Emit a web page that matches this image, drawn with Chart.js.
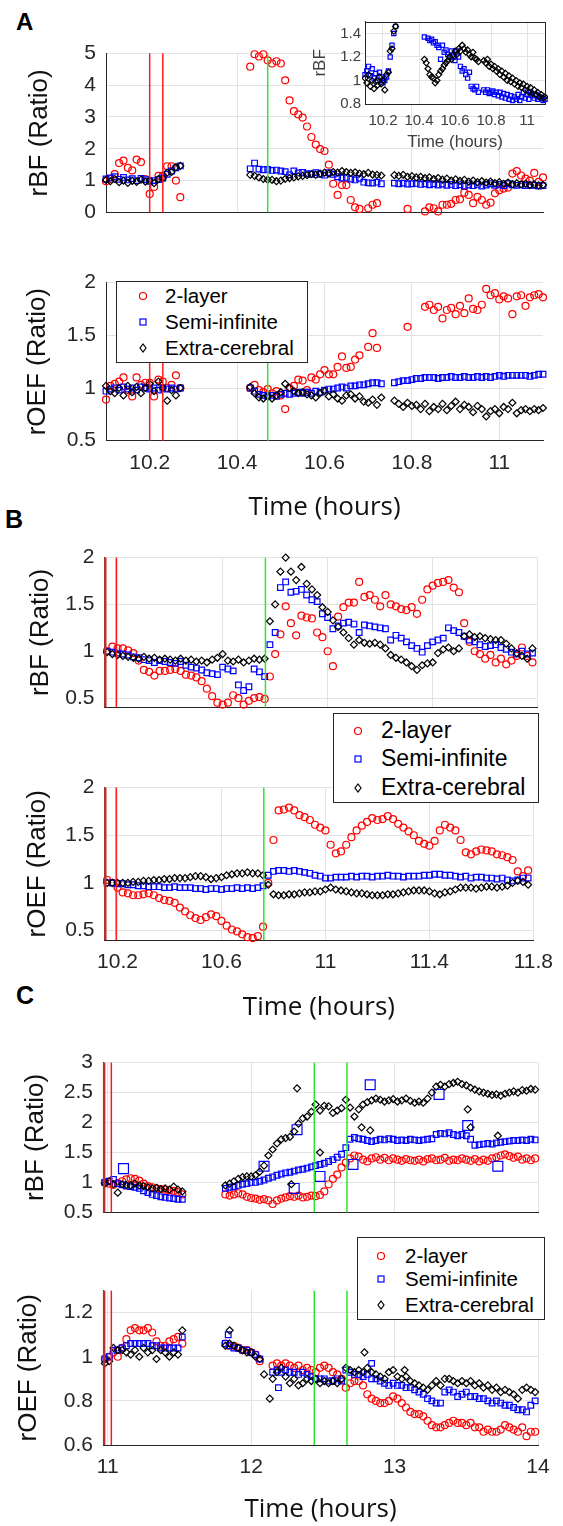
<!DOCTYPE html>
<html>
<head>
<meta charset="UTF-8">
<script src="https://cdn.jsdelivr.net/npm/chart.js"></script>
<title>rBF / rOEF</title>
<style>
body { margin: 0; background: #fff; }
#fig { position: relative; width: 563px; height: 1526px; overflow: hidden; font-family: "Liberation Sans", Arial, sans-serif; }
#fig canvas { position: absolute; left: 0; }
.letter { position: absolute; font-weight: bold; font-size: 25px; line-height: 1; color: #000; }
.legend { position: absolute; background: #fff; border: 1px solid #262626; box-sizing: border-box; z-index: 5; }
.legend div, .legend svg { position: absolute; white-space: nowrap; }
</style>
</head>
<body>
<div id="fig">
  <div class="letter" style="left:16px;top:10px;font-size:24px">A</div>
  <div class="letter" style="left:5px;top:507px">B</div>
  <div class="letter" style="left:16px;top:983px">C</div>
  <canvas id="aBf"></canvas>
  <canvas id="aOef"></canvas>
  <canvas id="aInset" style="left:300px"></canvas>
  <canvas id="bBf"></canvas>
  <canvas id="bOef"></canvas>
  <canvas id="cBf"></canvas>
  <canvas id="cOef"></canvas>
  <div class="legend" id="legA"></div>
  <div class="legend" id="legB"></div>
  <div class="legend" id="legC"></div>
</div>

<script>
var names = ['2-layer', 'Semi-infinite', 'Extra-cerebral'];

// ---- panel A (time in hours) ----
var tA = [10.10,10.11,10.12,10.13,10.14,10.15,10.16,10.17,10.18,10.19,10.20,10.21,10.22,10.23,10.24,10.25,10.26,10.27,
  10.43,10.44,10.45,10.46,10.47,10.48,10.49,10.50,10.51,10.52,10.53,10.54,10.55,10.56,10.57,10.58,10.59,10.60,
  10.61,10.62,10.63,10.64,10.65,10.66,10.67,10.68,10.69,10.70,10.71,10.72,10.73,
  10.76,10.77,10.78,10.79,10.80,10.81,10.82,10.83,10.84,10.85,10.86,10.87,10.88,10.89,10.90,10.91,10.92,10.93,
  10.94,10.95,10.96,10.97,10.98,10.99,11.00,11.01,11.02,11.03,11.04,11.05,11.06,11.07,11.08,11.09,11.10];
var aBfRed = [0.98,1.05,1.2,1.55,1.63,1.4,1.32,1.66,1.58,1.05,0.58,0.8,1.15,1.15,1.45,1.45,1.0,0.48,
  4.58,4.97,4.9,4.97,4.78,4.68,4.75,4.68,4.15,3.52,3.18,3.08,2.98,2.7,2.37,2.13,1.99,1.93,1.5,0.9,0.55,0.86,0.86,0.39,0.16,0.11,null,0.13,0.24,0.29,null,
  null,null,null,0.11,null,null,null,0.03,0.16,0.13,0.03,0.24,0.24,0.27,0.39,0.41,0.62,0.55,0.29,0.49,0.39,0.24,0.31,0.6,0.7,0.75,0.78,1.22,1.3,1.16,1.06,1.0,1.24,0.96,1.1];
var aBfBlue = [1.05,1.08,1.12,1.04,1.1,1.02,1.06,1.0,1.07,1.03,0.98,1.0,1.03,1.08,1.2,1.3,1.4,1.46,
  1.37,1.55,1.36,1.34,1.35,1.32,1.33,1.3,1.28,1.18,1.3,1.24,1.26,1.22,1.2,1.25,1.2,1.17,1.25,1.2,1.12,1.08,1.1,1.05,1.02,1.07,0.95,0.93,0.92,0.95,0.9,
  0.92,0.9,0.92,0.89,0.9,0.91,0.88,0.9,0.87,0.9,0.86,0.89,0.85,0.88,0.84,0.87,0.83,0.86,0.84,0.88,0.83,0.86,0.9,0.85,0.88,0.84,0.9,0.87,0.85,0.88,0.84,0.86,0.85,0.83,0.84];
var aBfBlack = [1.02,0.98,1.05,0.95,1.0,0.93,0.99,0.96,1.03,0.97,1.0,0.92,1.05,1.07,1.25,1.27,1.42,1.46,
  1.18,1.15,1.1,1.05,1.03,1.02,0.98,1.0,1.05,1.08,1.1,1.13,1.15,1.17,1.2,1.18,1.22,1.25,1.22,1.27,1.25,1.3,1.27,1.24,1.26,1.22,1.2,1.24,1.19,1.18,1.16,
  1.17,1.15,1.18,1.12,1.14,1.1,1.12,1.08,1.1,1.05,1.08,1.03,1.06,1.0,1.04,0.99,1.02,0.97,1.0,0.95,0.98,0.94,0.97,0.92,0.95,0.9,0.94,0.89,0.92,0.88,0.9,0.86,0.88,0.85,0.86];
var aOefRed = [0.89,1.02,1.04,1.06,1.1,0.98,0.92,1.1,1.03,1.05,1.05,0.92,1.08,1.06,1.0,1.03,1.12,1.0,
  1.0,1.03,0.98,0.96,0.99,0.95,0.97,0.93,0.8,1.0,1.02,1.08,1.07,0.98,1.1,1.08,1.13,1.17,1.13,1.13,1.2,1.3,1.19,1.2,1.27,1.31,null,1.39,1.52,1.38,null,
  null,null,null,1.58,null,null,null,1.77,1.79,1.74,1.77,1.66,1.74,1.76,1.7,1.78,1.71,1.85,1.75,1.74,1.79,1.94,1.88,1.9,1.84,1.87,1.85,1.7,1.87,1.88,1.78,1.86,1.88,1.89,1.86];
var aOefBlue = [0.97,0.99,1.0,0.98,1.01,0.99,1.0,0.98,1.01,1.0,0.99,1.0,0.98,1.0,0.99,1.0,0.99,1.0,
  1.0,0.97,0.94,0.93,0.92,0.93,0.92,0.94,0.95,0.94,0.95,0.96,0.95,0.96,0.95,0.97,0.96,0.98,0.99,0.99,1.0,1.01,1.0,1.02,1.02,1.03,1.03,1.04,1.05,1.05,1.04,
  1.05,1.06,1.07,1.07,1.08,1.09,1.09,1.1,1.1,1.1,1.09,1.1,1.1,1.11,1.1,1.1,1.11,1.1,1.1,1.11,1.1,1.11,1.1,1.11,1.12,1.11,1.12,1.12,1.12,1.12,1.12,1.11,1.12,1.13,1.13];
var aOefBlack = [1.02,0.97,0.95,1.0,0.93,1.02,0.96,1.01,0.95,1.0,1.04,0.97,1.06,1.0,0.88,0.98,0.93,1.0,
  1.01,0.95,0.91,0.9,0.92,0.9,0.93,0.96,1.04,1.0,0.97,0.95,0.96,0.94,0.93,0.91,0.95,0.97,0.92,0.94,0.9,0.88,0.93,0.94,0.9,0.92,0.87,0.86,0.89,0.84,0.91,
  0.88,0.85,0.82,0.86,0.83,0.84,0.8,0.85,0.78,0.82,0.8,0.85,0.79,0.83,0.87,0.8,0.84,0.82,0.77,0.83,0.8,0.73,0.78,0.8,0.76,0.82,0.8,0.86,0.76,0.79,0.8,0.78,0.8,0.79,0.81];
var aXTicks = [10.2, 10.4, 10.6, 10.8, 11];
var aBfTicks = [0, 1, 2, 3, 4, 5];
var aOefTicks = [0.5, 1, 1.5, 2];
var insetTicks = [0.8, 1, 1.2, 1.4];
var aMarks = [[10.20, 'red'], [10.23, 'red'], [10.47, 'green']];

// ---- panel B ----
var tB = [10.16,10.18,10.20,10.22,10.24,10.26,10.28,10.30,10.32,10.34,10.36,10.38,10.40,10.42,10.44,10.46,10.48,10.50,10.52,10.54,
  10.56,10.58,10.60,10.62,10.64,10.66,10.68,10.70,10.72,10.74,10.76,10.78,10.80,10.82,10.84,10.86,10.88,10.90,10.92,10.94,
  10.96,10.98,11.00,11.02,11.04,11.06,11.08,11.10,11.12,11.14,11.16,11.18,11.20,11.22,11.24,11.26,11.28,11.30,11.32,11.34,
  11.36,11.38,11.40,11.42,11.44,11.46,11.48,11.50,11.52,11.54,11.56,11.58,11.60,11.62,11.64,11.66,11.68,11.70,11.72,11.74,11.76,11.78];
var bBfRed = [1.0,1.05,1.03,1.03,1.01,0.98,0.9,0.8,0.78,0.74,0.79,0.79,0.8,0.81,0.79,0.75,0.74,0.72,0.68,0.6,
  0.52,0.45,0.43,0.45,0.53,0.5,0.43,0.47,0.5,0.51,0.49,0.73,0.97,1.18,1.48,1.3,1.17,1.38,1.36,1.35,
  1.2,1.15,1.0,0.84,1.37,1.47,1.52,1.52,1.74,1.58,1.6,1.55,1.48,1.6,1.5,1.48,1.45,1.44,1.47,1.4,
  1.55,1.66,1.7,1.73,1.74,1.76,1.68,1.63,1.3,1.1,1.0,0.97,0.92,0.96,0.88,0.92,0.86,0.9,0.95,1.04,0.95,0.88];
var bBfBlue = [1.0,0.99,0.98,0.97,0.96,0.94,0.93,0.91,0.9,0.88,0.9,0.89,0.88,0.87,0.89,0.85,0.83,0.82,0.8,0.77,
  0.76,0.75,0.83,0.81,0.79,0.64,0.58,0.62,0.81,0.78,0.73,1.07,1.2,1.68,1.74,1.63,1.64,1.66,1.6,1.55,
  1.53,1.4,1.36,1.24,1.27,1.3,1.31,1.29,1.2,1.28,1.27,1.26,1.25,1.24,1.12,1.17,1.14,1.1,1.06,1.03,
  0.99,1.06,1.1,1.12,1.14,1.25,1.22,1.2,1.16,1.12,1.1,1.07,1.05,1.06,1.07,1.04,1.02,0.99,0.97,1.0,0.97,0.98];
var bBfBlack = [0.99,0.97,0.96,0.95,0.94,0.93,0.92,0.94,0.92,0.93,0.91,0.92,0.91,0.9,0.92,0.9,0.91,0.89,0.9,0.88,
  0.91,0.93,0.97,0.9,0.89,0.91,0.88,0.9,0.92,0.91,0.92,1.32,1.5,1.85,2.0,1.85,1.76,1.9,1.72,1.66,
  1.6,1.47,1.42,1.33,1.26,1.2,1.14,1.07,1.12,1.09,1.08,1.09,1.07,1.03,0.96,0.93,0.91,0.88,0.84,0.8,
  0.85,0.87,0.88,0.98,1.02,1.04,1.0,1.03,1.16,1.18,1.15,1.16,1.14,1.13,1.12,1.12,1.08,1.03,0.98,0.95,0.92,1.03];
var bOefRed = [1.03,1.0,0.95,0.9,0.89,0.87,0.87,0.88,0.89,0.87,0.84,0.82,0.81,0.79,0.74,0.7,0.66,0.63,0.61,0.64,
  0.67,0.65,0.6,0.55,0.51,0.49,0.46,0.43,0.42,0.44,0.54,1.0,1.45,1.76,1.77,1.79,1.76,1.71,1.69,1.66,
  1.61,1.58,1.55,1.4,1.31,1.33,1.4,1.48,1.55,1.6,1.64,1.68,1.66,1.67,1.7,1.67,1.62,1.58,1.54,1.5,
  1.44,1.41,1.39,1.44,1.55,1.61,1.58,1.55,1.45,1.32,1.3,1.33,1.35,1.34,1.33,1.3,1.29,1.27,1.24,1.12,1.07,1.13];
var bOefBlue = [1.0,1.0,0.99,0.99,0.98,0.98,0.97,0.97,0.96,0.96,0.96,0.95,0.95,0.96,0.95,0.95,0.95,0.94,0.94,0.93,
  0.94,0.94,0.93,0.94,0.94,0.95,0.94,0.95,0.94,0.95,0.97,1.08,1.12,1.13,1.13,1.12,1.13,1.12,1.11,1.1,
  1.08,1.07,1.05,1.05,1.06,1.06,1.06,1.07,1.06,1.07,1.07,1.06,1.07,1.07,1.08,1.07,1.07,1.06,1.07,1.07,
  1.07,1.08,1.08,1.09,1.09,1.08,1.08,1.07,1.06,1.07,1.05,1.06,1.06,1.05,1.05,1.04,1.05,1.03,1.02,1.03,1.05,1.05];
var bOefBlack = [1.0,1.0,1.0,1.0,1.0,1.01,1.01,1.02,1.02,1.03,1.03,1.04,1.04,1.05,1.05,1.05,1.06,1.07,1.07,1.06,
  1.04,1.05,1.06,1.08,1.09,1.1,1.1,1.11,1.1,1.1,1.08,0.98,0.88,0.87,0.87,0.88,0.88,0.89,0.9,0.9,
  0.91,0.91,0.93,0.95,0.93,0.92,0.91,0.9,0.89,0.89,0.88,0.87,0.87,0.87,0.88,0.88,0.89,0.9,0.91,0.92,
  0.92,0.92,0.91,0.89,0.88,0.9,0.91,0.93,0.95,0.95,0.95,0.94,0.95,0.96,0.96,0.95,0.96,0.97,1.0,1.02,1.01,0.98];
var bXTicks = [10.2, 10.6, 11, 11.4, 11.8];
var bYTicks = [0.5, 1, 1.5, 2];
var bMarks = [[10.153, 'darkred'], [10.195, 'red'], [10.763, 'green']];

// ---- panel C ----
var tC = [10.98,11.01,11.04,11.07,11.10,11.13,11.16,11.19,11.22,11.25,11.28,11.31,11.34,11.37,11.40,11.43,11.46,11.49,11.52,
  11.82,11.85,11.88,11.91,11.94,11.97,12.00,12.03,12.06,12.09,12.12,12.15,12.18,12.21,12.24,12.27,12.30,12.33,12.36,12.39,
  12.42,12.45,12.48,12.51,12.54,12.57,12.60,12.63,12.66,12.69,12.72,12.75,12.78,12.81,12.84,12.87,12.90,12.93,12.96,12.99,
  13.02,13.05,13.08,13.11,13.14,13.17,13.20,13.23,13.26,13.29,13.32,13.35,13.38,13.41,13.44,13.47,13.50,13.53,13.56,13.59,
  13.62,13.65,13.68,13.71,13.74,13.77,13.80,13.83,13.86,13.89,13.92,13.95,13.98];
var cBfRed = [1.0,0.98,0.96,0.99,1.02,1.05,1.07,1.06,1.03,0.98,0.94,0.92,0.9,0.89,0.88,0.87,0.86,0.84,0.8,
  0.8,0.78,0.8,0.82,0.8,0.76,0.74,0.73,0.71,0.72,0.7,0.64,0.7,0.73,0.75,0.77,0.76,0.78,0.75,0.76,
  0.78,0.77,0.79,0.85,0.97,1.06,1.13,1.25,1.33,1.4,1.45,1.43,1.38,1.35,1.4,1.42,1.38,1.41,1.37,1.4,
  1.38,1.36,1.39,1.37,1.36,1.38,1.35,1.39,1.4,1.37,1.38,1.41,1.36,1.38,1.37,1.4,1.38,1.36,1.39,1.35,
  1.38,1.36,1.4,1.42,1.45,1.47,1.44,1.41,1.43,1.38,1.4,1.37,1.4];
var cBfBlue = [1.0,1.02,1.05,0.98,0.96,0.94,0.93,0.92,0.9,0.86,0.83,0.8,0.78,0.76,0.75,0.74,0.73,0.72,0.72,
  0.9,0.92,0.93,0.95,0.97,0.98,1.0,1.0,1.02,1.04,1.07,1.09,1.12,1.14,1.16,1.17,1.19,1.21,1.22,1.24,
  1.26,1.28,1.3,1.32,1.35,1.38,1.42,1.47,1.58,1.72,1.75,1.73,1.72,1.7,1.68,1.7,1.72,1.71,1.73,1.72,
  1.7,1.71,1.7,1.72,1.71,1.7,1.71,1.72,1.73,1.8,1.82,1.81,1.83,1.8,1.78,1.8,1.78,1.72,1.62,1.63,
  1.64,1.65,1.64,1.66,1.67,1.68,1.69,1.7,1.7,1.71,1.7,1.72,1.71];
var cBfBlack = [0.98,1.02,0.97,0.83,0.97,0.96,0.95,0.98,0.95,0.94,0.92,0.9,0.91,0.89,0.9,0.88,0.93,0.88,0.85,
  0.95,0.98,1.02,1.06,1.09,1.1,1.1,1.12,1.18,1.28,1.45,1.55,1.65,1.72,1.74,1.76,1.85,1.98,2.07,2.1,
  2.18,2.3,2.2,2.28,2.27,2.16,2.2,2.24,2.38,2.25,2.1,2.22,2.3,2.34,2.37,2.4,2.38,2.35,2.37,2.39,
  2.35,2.37,2.4,2.36,2.33,2.35,2.33,2.4,2.5,2.6,2.63,2.6,2.64,2.66,2.68,2.64,2.62,2.58,2.55,2.52,
  2.5,2.48,2.46,2.47,2.45,2.48,2.5,2.52,2.5,2.54,2.53,2.56,2.55];
// isolated samples away from the main bands
var cBfBlueOutT = [11.11, 12.09, 12.30, 12.32, 12.48, 12.71, 12.83, 13.31, 13.51, 13.72];
var cBfBlueOutV = [1.23, 1.27, 0.9, 1.88, 1.1, 1.3, 2.63, 2.47, 1.95, 1.27];
var cBfBlackOutT = [12.28, 12.32, 12.48, 12.77, 12.83, 13.51, 13.53, 13.72];
var cBfBlackOutV = [0.97, 2.57, 1.5, 1.92, 1.87, 2.22, 1.92, 1.78];
var cOefRed = [0.99,1.0,1.02,1.0,1.04,1.08,1.12,1.13,1.12,1.12,1.13,1.11,1.07,1.05,1.05,1.07,1.08,1.09,1.06,
  1.06,1.05,1.05,1.04,1.03,1.03,1.02,1.01,0.98,null,null,0.96,0.97,0.96,0.97,0.96,0.95,0.96,0.94,0.95,
  0.94,0.93,0.95,0.96,0.95,0.93,0.92,0.9,0.86,0.88,0.89,0.89,0.87,0.83,0.81,0.8,0.79,0.79,0.8,0.82,
  0.81,0.79,0.77,0.75,0.74,0.74,0.73,0.71,0.69,0.68,0.68,0.69,0.7,0.71,0.7,0.7,0.69,0.7,0.68,0.68,
  0.66,0.67,0.66,0.66,0.67,0.69,0.68,0.67,0.66,0.68,0.64,0.66,0.66];
var cOefBlue = [0.99,1.0,1.03,1.03,1.04,1.05,1.06,1.06,1.06,1.06,1.06,1.05,1.05,1.04,1.04,1.04,1.04,1.04,1.09,
  1.06,1.05,1.04,1.04,1.03,1.03,1.02,1.01,0.99,null,null,0.93,0.94,0.93,0.94,0.93,0.93,0.92,0.93,0.92,
  0.91,0.9,0.9,0.9,0.89,0.89,0.9,0.89,0.94,0.93,0.92,0.92,0.91,0.92,0.9,0.9,0.89,0.88,0.87,0.88,
  0.87,0.87,0.86,0.86,0.85,0.84,0.83,0.81,0.8,0.79,0.79,0.84,0.85,0.84,0.82,0.83,0.84,0.82,0.82,0.81,
  0.81,0.8,0.79,0.8,0.79,0.78,0.78,0.77,0.76,0.76,0.75,0.78,0.8];
var cOefBlack = [0.97,0.98,1.04,1.03,1.03,1.02,1.01,1.03,1.0,1.04,1.02,1.03,0.99,1.03,1.02,1.0,1.02,1.01,1.12,
  1.05,1.06,1.05,1.04,1.03,1.02,1.02,1.0,0.99,0.92,null,0.9,0.93,0.95,0.91,0.88,0.9,0.87,0.88,0.9,
  0.89,0.9,0.88,0.89,0.88,0.89,0.88,0.9,0.95,0.94,0.93,0.94,0.93,0.95,0.93,0.92,0.91,0.9,0.93,0.94,
  0.91,0.9,0.91,0.89,0.88,0.87,0.86,0.85,0.87,0.89,0.87,0.9,0.9,0.89,0.88,0.89,0.88,0.89,0.87,0.88,
  0.86,0.87,0.85,0.86,0.84,0.85,0.84,0.83,0.81,0.85,0.86,0.85,0.84];
var cOefBlueOutT = [11.84, 12.19, 12.84];
var cOefBlueOutV = [1.1, 0.86, 0.97];
var cOefBlackOutT = [11.85, 12.13, 12.79, 13.07];
var cOefBlackOutV = [1.12, 0.81, 1.02, 0.94];
var cXTicks = [11, 12, 13, 14];
var cBfTicks = [0.5, 1, 1.5, 2, 2.5, 3];
var cOefTicks = [0.6, 0.8, 1, 1.2];
var cMarks = [[10.975, 'darkred'], [11.025, 'red'], [12.44, 'green'], [12.668, 'green']];

// ---- look ----
var SANS = '"Liberation Sans", Arial, sans-serif';
var TITLE_FONT = '"Open Sans", "Noto Sans", sans-serif';
var GRID = '#e3e3e3', AXIS = '#262626', TICK = '#262626';
var LINE = {red: ['#ff1a1a', 1.5], darkred: ['#b8322c', 2.5], green: ['#2ee62e', 1.5]};
var STYLE = [
  {shape: 'circle', r: 3.5, color: '#ff0000', order: 3},
  {shape: 'rect', r: 4, color: '#0000ff', order: 2},
  {shape: 'rectRot', r: 3.5, color: '#000000', order: 1}
];

var pts = function (t, v) {
  var out = [];
  for (var i = 0; i < t.length; i++) if (v[i] !== null) out.push({x: t[i], y: v[i]});
  return out;
};
var ds = function (data, k, r, clip) {
  var s = STYLE[k];
  return {data: data, showLine: false, pointStyle: s.shape, pointRadius: r || s.r,
    pointBorderColor: s.color, pointBackgroundColor: 'rgba(0,0,0,0)', pointBorderWidth: 1.2,
    order: s.order, clip: clip === undefined ? false : clip};
};
var fixTicks = function (arr) {
  return function (s) { s.ticks = arr.map(function (v) { return {value: v}; }); };
};
var fmt = function (v) { return String(+(+v).toFixed(2)); };

Chart.register({
  id: 'vlines',
  afterDatasetsDraw: function (chart, args, opts) {
    var a = chart.chartArea, x = chart.scales.x, ctx = chart.ctx;
    (opts.marks || []).forEach(function (m) {
      var px = x.getPixelForValue(m[0]);
      ctx.save();
      ctx.strokeStyle = LINE[m[1]][0];
      ctx.lineWidth = LINE[m[1]][1];
      ctx.beginPath(); ctx.moveTo(px, a.top); ctx.lineTo(px, a.bottom); ctx.stroke();
      ctx.restore();
    });
  }
});
Chart.register({
  id: 'frame',
  beforeDraw: function (chart, args, opts) {
    if (!opts.on) return;
    var a = chart.chartArea;
    chart.ctx.save(); chart.ctx.fillStyle = '#fff';
    chart.ctx.fillRect(a.left, a.top, a.right - a.left, a.bottom - a.top);
    chart.ctx.restore();
  },
  afterDraw: function (chart, args, opts) {
    if (!opts.on) return;
    var a = chart.chartArea, ctx = chart.ctx;
    ctx.save(); ctx.strokeStyle = AXIS; ctx.lineWidth = 1;
    ctx.strokeRect(Math.round(a.left) + 0.5, Math.round(a.top) + 0.5, Math.round(a.right - a.left), Math.round(a.bottom - a.top));
    ctx.restore();
  }
});

// c: canvas top/bottom (ct, cb), plot box (top, bottom, left, right), axis ranges
function mainChart(id, c) {
  var cv = document.getElementById(id);
  cv.width = 563; cv.height = c.cb - c.ct; cv.style.top = c.ct + 'px';
  var sets = [ds(pts(c.t, c.v[0]), 0), ds(pts(c.t, c.v[1]), 1), ds(pts(c.t, c.v[2]), 2)].concat(c.extra || []);
  var withTime = c.timeY !== undefined;
  return new Chart(cv, {
    type: 'scatter',
    data: {datasets: sets},
    options: {
      responsive: false, animation: false, events: [],
      layout: {padding: {left: 0, right: 563 - c.right, top: c.top - c.ct, bottom: 0}},
      plugins: {legend: {display: false}, tooltip: {enabled: false}, vlines: {marks: c.marks}, frame: {on: false}},
      scales: {
        x: {
          type: 'linear', min: c.x[0], max: c.x[1],
          afterBuildTicks: fixTicks(c.x[2]),
          afterFit: function (s) { s.height = c.cb - c.bottom; },
          grid: {color: GRID, drawTicks: false},
          border: {color: AXIS, width: 1},
          ticks: {display: withTime, padding: 10, color: TICK, font: {family: SANS, size: 21},
            maxRotation: 0, autoSkip: false, callback: fmt},
          title: {display: withTime, text: 'Time (hours)', color: '#111',
            font: {family: TITLE_FONT, size: 26},
            padding: {top: 0, bottom: withTime ? (c.cb - c.timeY) - 15.6 : 0}}
        },
        y: {
          min: c.y[0], max: c.y[1],
          afterBuildTicks: fixTicks(c.y[2]),
          afterFit: function (s) { s.width = c.left; },
          grid: {color: GRID, drawTicks: false},
          border: {color: AXIS, width: 1},
          ticks: {padding: 10, color: TICK, font: {family: SANS, size: 21}, callback: fmt},
          title: {display: true, text: c.yTitle, color: '#111', font: {family: SANS, size: 26},
            padding: {top: c.titleX - 15.6, bottom: 0}}
        }
      }
    }
  });
}

mainChart('aBf', {ct: 20, cb: 235, top: 53.3, bottom: 215, left: 106, right: 543,
  t: tA, v: [aBfRed, aBfBlue, aBfBlack], x: [10.1, 11.1, aXTicks], y: [0, 5, aBfTicks],
  yTitle: 'rBF (Ratio)', titleX: 40, marks: aMarks});
mainChart('aOef', {ct: 260, cb: 530, top: 277.5, bottom: 440.7, left: 106, right: 543,
  t: tA, v: [aOefRed, aOefBlue, aOefBlack], x: [10.1, 11.1, aXTicks], y: [0.5, 2, aOefTicks],
  yTitle: 'rOEF (Ratio)', titleX: 38, marks: aMarks, timeY: 508});
mainChart('bBf', {ct: 535, cb: 730, top: 555, bottom: 716, left: 104.5, right: 537.7,
  t: tB, v: [bBfRed, bBfBlue, bBfBlack], x: [10.15, 11.8, bXTicks], y: [0.4, 2, bYTicks],
  yTitle: 'rBF (Ratio)', titleX: 40.5, marks: bMarks});
mainChart('bOef', {ct: 765, cb: 1030, top: 779.3, bottom: 940, left: 104.5, right: 537.7,
  t: tB, v: [bOefRed, bOefBlue, bOefBlack], x: [10.15, 11.8, bXTicks], y: [0.4, 2, bYTicks],
  yTitle: 'rOEF (Ratio)', titleX: 38, marks: bMarks, timeY: 1008});
mainChart('cBf', {ct: 1040, cb: 1235, top: 1056, bottom: 1219.3, left: 103, right: 538,
  t: tC, v: [cBfRed, cBfBlue, cBfBlack], x: [10.967, 14, cXTicks], y: [0.5, 3, cBfTicks],
  yTitle: 'rBF (Ratio)', titleX: 36, marks: cMarks,
  extra: [ds(pts(cBfBlueOutT, cBfBlueOutV), 1, 7), ds(pts(cBfBlackOutT, cBfBlackOutV), 2)]});
mainChart('cOef', {ct: 1268, cb: 1526, top: 1281.7, bottom: 1445, left: 103, right: 538,
  t: tC, v: [cOefRed, cOefBlue, cOefBlack], x: [10.967, 14, cXTicks], y: [0.6, 1.3, cOefTicks],
  yTitle: 'rOEF (Ratio)', titleX: 29, marks: cMarks, timeY: 1510,
  extra: [ds(pts(cOefBlueOutT, cOefBlueOutV), 1), ds(pts(cOefBlackOutT, cOefBlackOutV), 2)]});

// inset of panel A: blood flow zoomed to 0.8 - 1.5
(function () {
  var cv = document.getElementById('aInset');
  cv.width = 263; cv.height = 160; cv.style.top = '0px';
  var clip = {left: 3, right: 3, top: 0, bottom: 3};
  var tiny = {family: SANS, size: 15};
  new Chart(cv, {
    type: 'scatter',
    data: {datasets: [ds(pts(tA, aBfBlue), 1, 3, clip), ds(pts(tA, aBfBlack), 2, 3, clip)]},
    options: {
      responsive: false, animation: false, events: [],
      layout: {padding: {left: 0, right: 18, top: 21.7, bottom: 0}},
      plugins: {legend: {display: false}, tooltip: {enabled: false}, frame: {on: true}},
      scales: {
        x: {
          type: 'linear', min: 10.1, max: 11.1,
          afterBuildTicks: fixTicks(aXTicks),
          afterFit: function (s) { s.height = 56; },
          grid: {color: GRID, drawTicks: false}, border: {color: AXIS},
          ticks: {padding: 8, color: '#404040', font: tiny, maxRotation: 0, autoSkip: false, callback: fmt},
          title: {display: true, text: 'Time (hours)', color: '#404040', font: {family: SANS, size: 17},
            padding: {top: 0, bottom: 7.8}}
        },
        y: {
          min: 0.8, max: 1.5,
          afterBuildTicks: fixTicks(insetTicks),
          afterFit: function (s) { s.width = 65; },
          grid: {color: GRID, drawTicks: false}, border: {color: AXIS},
          ticks: {padding: 4, color: '#404040', font: tiny, callback: fmt},
          title: {display: true, text: 'rBF', color: '#404040', font: {family: SANS, size: 17},
            padding: {top: 9.8, bottom: 0}}
        }
      }
    }
  });
})();

// legends drawn as html boxes on top of the plots
function legend(id, L) {
  var el = document.getElementById(id);
  el.style.left = L.left + 'px'; el.style.top = L.top + 'px';
  el.style.width = L.w + 'px'; el.style.height = L.h + 'px';
  var marks = [
    '<circle cx="6" cy="6" r="3.5" fill="none" stroke="#ff0000" stroke-width="1.2"/>',
    '<rect x="3" y="3" width="6" height="6" fill="none" stroke="#0000ff" stroke-width="1.2"/>',
    '<polygon points="6,2 9,6 6,10 3,6" fill="none" stroke="#000" stroke-width="1.2"/>'
  ];
  var html = '';
  names.forEach(function (n, i) {
    var y = L.rows[i];
    html += '<svg width="12" height="12" style="left:' + (L.mx - 6) + 'px;top:' + (y - 6) + 'px">' + marks[i] + '</svg>';
    html += '<div style="left:' + L.tx + 'px;top:' + (y - 0.6 * L.font) + 'px;font-size:' + L.font +
      'px;line-height:' + (1.2 * L.font) + 'px">' + n + '</div>';
  });
  el.innerHTML = html;
}
legend('legA', {left: 116, top: 281, w: 192, h: 82, font: 20.5, mx: 26, tx: 48, rows: [14, 40, 66]});
legend('legB', {left: 333, top: 713, w: 206, h: 90, font: 23, mx: 24, tx: 47, rows: [17, 45, 74]});
legend('legC', {left: 357, top: 1237, w: 188, h: 83, font: 20.5, mx: 23, tx: 47, rows: [18, 41, 67]});
</script>
</body>
</html>
